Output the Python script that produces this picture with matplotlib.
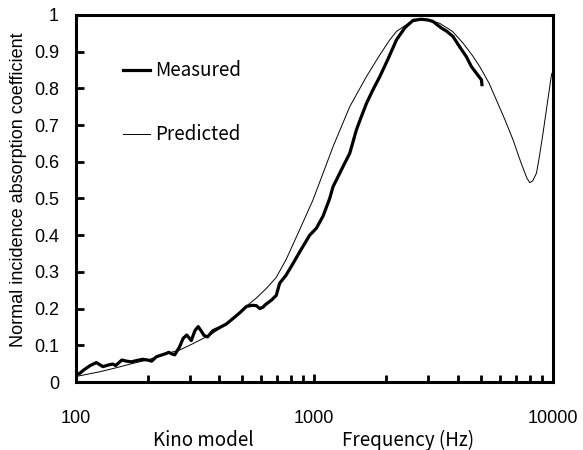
import matplotlib
matplotlib.use('Agg')
import matplotlib.pyplot as plt
from matplotlib.ticker import FixedLocator, NullFormatter

# measured curve (Hz, coefficient)
meas_f = [100, 104, 108, 115, 122, 130, 138, 143, 147, 156, 163, 171, 181, 191,
          200, 208, 218, 230, 240, 245, 252, 260, 272, 282, 292, 305, 316, 326,
          335, 345, 357, 376, 400, 428, 460, 490, 520, 550, 572, 591, 610, 622,
          661, 693, 716, 760, 815, 870, 957, 1021, 1089, 1161, 1199, 1260, 1321,
          1409, 1503, 1570, 1656, 1760, 1884, 2040, 2213, 2400, 2596, 2812, 3000,
          3148, 3400, 3600, 3818, 4100, 4345, 4562, 4800, 5025, 5050]
meas_a = [0.019, 0.024, 0.033, 0.045, 0.053, 0.042, 0.047, 0.049, 0.045, 0.060,
          0.057, 0.055, 0.059, 0.062, 0.060, 0.057, 0.069, 0.074, 0.078, 0.081,
          0.077, 0.074, 0.095, 0.119, 0.128, 0.113, 0.140, 0.151, 0.140, 0.127,
          0.123, 0.140, 0.148, 0.158, 0.175, 0.190, 0.206, 0.209, 0.208, 0.200,
          0.204, 0.210, 0.223, 0.236, 0.269, 0.290, 0.323, 0.355, 0.400, 0.419,
          0.452, 0.500, 0.532, 0.560, 0.587, 0.623, 0.687, 0.720, 0.759, 0.795,
          0.832, 0.880, 0.932, 0.965, 0.985, 0.988, 0.986, 0.982, 0.965, 0.955,
          0.941, 0.910, 0.886, 0.859, 0.840, 0.823, 0.810]

# predicted curve (Kino model)
pred_f = [100, 126, 150, 174, 200, 240, 270, 300, 331, 365, 400, 457, 520, 570,
          630, 693, 764, 869, 988, 1055, 1199, 1409, 1656, 1884, 2075, 2213, 2500,
          2812, 3100, 3357, 3800, 4206, 4600, 4945, 5400, 5807, 6300, 6826, 7200,
          7516, 7800, 8016, 8250, 8551, 8800, 9110, 9500, 9885, 10000]
pred_a = [0.015, 0.028, 0.040, 0.051, 0.060, 0.078, 0.086, 0.100, 0.114, 0.128,
          0.145, 0.173, 0.207, 0.228, 0.255, 0.285, 0.335, 0.415, 0.496, 0.545,
          0.641, 0.750, 0.832, 0.891, 0.932, 0.955, 0.978, 0.988, 0.984, 0.977,
          0.955, 0.923, 0.890, 0.859, 0.815, 0.768, 0.715, 0.659, 0.615, 0.582,
          0.555, 0.543, 0.548, 0.569, 0.615, 0.678, 0.760, 0.837, 0.845]

x_ticks = [100, 1000, 10000]
x_labels = ['100', '1000', '10000']
y_ticks = [0, 0.1, 0.2, 0.3, 0.4, 0.5, 0.6, 0.7, 0.8, 0.9, 1]
y_labels = ['0', '0.1', '0.2', '0.3', '0.4', '0.5', '0.6', '0.7', '0.8', '0.9', '1']

num_font = 'Liberation Sans'
jp_font = ['Noto Sans CJK JP', 'DejaVu Sans']

fig = plt.figure(figsize=(5.83, 4.5), dpi=100)
ax = fig.add_axes([0.130, 0.151, 0.818, 0.816])

ax.plot(meas_f, meas_a, color='black', lw=2.3, label='Measured')
ax.plot(pred_f, pred_a, color='black', lw=0.7, label='Predicted')

ax.set_xscale('log')
ax.set_xlim(100, 10000)
ax.set_ylim(0, 1)

ax.set_xticks(x_ticks)
ax.set_xticklabels(x_labels, fontfamily=num_font, fontsize=13)
minors = [m * d for d in (100, 1000) for m in range(2, 10)]
ax.xaxis.set_minor_locator(FixedLocator(minors))
ax.xaxis.set_minor_formatter(NullFormatter())
ax.set_yticks(y_ticks)
ax.set_yticklabels(y_labels, fontfamily=num_font, fontsize=13)

ax.tick_params(axis='both', which='both', direction='in', top=False, right=False,
               width=2, color='black')
ax.tick_params(axis='x', which='major', length=6, pad=20)
ax.tick_params(axis='x', which='minor', length=5)
ax.tick_params(axis='y', which='major', length=6, pad=12)

for s in ax.spines.values():
    s.set_linewidth(2.2)

ax.set_ylabel('Normal incidence absorption coefficient', fontfamily=num_font,
              fontsize=13)
ax.yaxis.set_label_coords(-0.102, 0.523)

fig.text(203 / 583, 1 - 440 / 450, 'Kino model', fontfamily=jp_font, fontsize=13.5,
         ha='center', va='center')
fig.text(408 / 583, 1 - 440 / 450, 'Frequency (Hz)', fontfamily=jp_font, fontsize=13.5,
         ha='center', va='center')

leg = ax.legend(loc='upper left', bbox_to_anchor=(0.063, 0.922), frameon=False,
                prop={'family': jp_font, 'size': 13.5}, handlelength=1.44,
                handletextpad=0.27, labelspacing=2.3)

fig.savefig('out.png', dpi=100)
